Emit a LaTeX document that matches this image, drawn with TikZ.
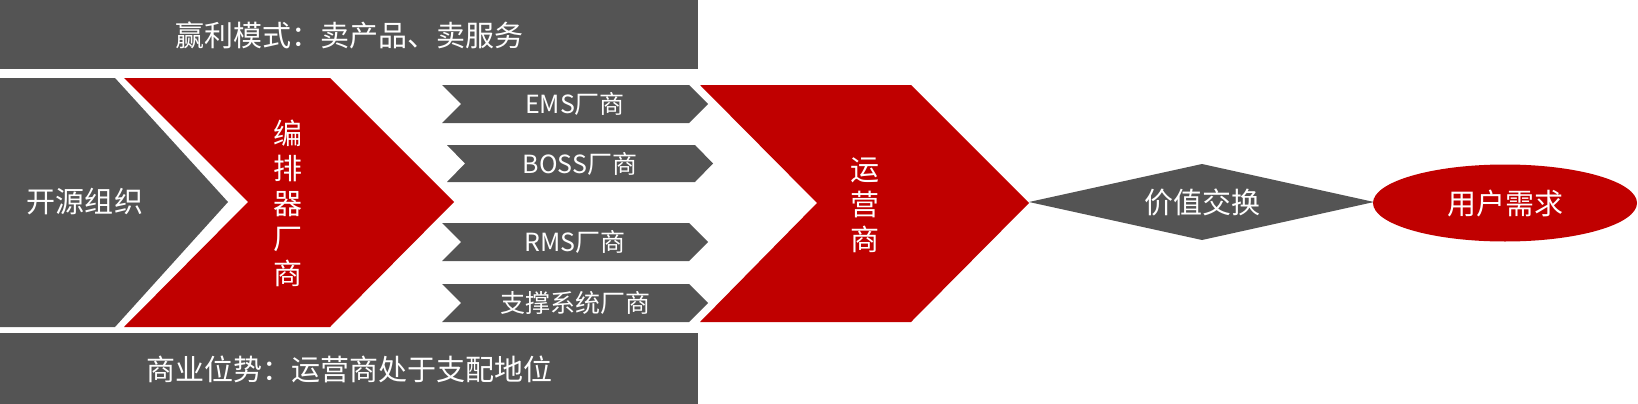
\documentclass[tikz,border=0pt]{standalone}
\usepackage{fontspec}
\setmainfont{Noto Sans CJK SC}
\definecolor{boxgray}{HTML}{545454}
\definecolor{boxred}{HTML}{C00000}
\tikzset{
	bigtext/.style={text=white, font=\fontsize{29}{35}\selectfont},
	smalltext/.style={text=white, font=\fontsize{25}{30}\selectfont},
	coltext/.style={text=white, font=\fontsize{29}{35}\selectfont, align=center, inner sep=0pt},
}

\begin{document}
\begin{tikzpicture}[x=1pt, y=-1pt]
		\useasboundingbox (0, 0) rectangle (1638, 404);

		\fill[boxgray] (0, 0) rectangle (698, 69);
		\node[bigtext] (model) at (349, 35) {赢利模式：卖产品、卖服务};

		\fill[boxgray] (0, 333) rectangle (698, 404);
		\node[bigtext] (status) at (349, 369) {商业位势：运营商处于支配地位};

		\fill[boxgray] (0, 78) -- (115, 78) -- (228, 202) -- (115, 327) -- (0, 327) -- cycle;
		\node[bigtext] (open) at (85, 202) {开源组织};

		\fill[boxred] (124, 78) -- (330, 78) -- (454, 202) -- (330, 327) -- (124, 327) -- (248, 202) -- cycle;
		\node[coltext] (orch) at (288, 203) {编\\排\\器\\厂\\商};

		\fill[boxgray] (442, 85) -- (689, 85) -- (708, 104) -- (689, 123) -- (442, 123) -- (461, 104) -- cycle;
		\node[smalltext] (ems) at (575, 104) {EMS厂商};

		\fill[boxgray] (447, 145) -- (695, 145) -- (713, 163.5) -- (695, 182) -- (447, 182) -- (465, 163.5) -- cycle;
		\node[smalltext] (boss) at (580, 163.5) {BOSS厂商};

		\fill[boxgray] (442, 223) -- (689, 223) -- (708, 242) -- (689, 261) -- (442, 261) -- (461, 242) -- cycle;
		\node[smalltext] (rms) at (575, 242) {RMS厂商};

		\fill[boxgray] (442, 284) -- (689, 284) -- (708, 303) -- (689, 322) -- (442, 322) -- (461, 303) -- cycle;
		\node[smalltext] (support) at (575, 303) {支撑系统厂商};

		\fill[boxred] (700, 85) -- (911, 85) -- (1029, 203) -- (911, 322) -- (700, 322) -- (817, 203) -- cycle;
		\node[coltext] (operator) at (865, 205) {运\\营\\商};

		\fill[boxgray] (1029, 202) -- (1202, 164) -- (1374, 202) -- (1202, 240) -- cycle;
		\node[bigtext] (value) at (1202, 202) {价值交换};

		\fill[boxred] (1505, 203) ellipse [x radius=132, y radius=38.5];
		\node[bigtext] (demand) at (1505, 203) {用户需求};
	\end{tikzpicture}
\end{document}
